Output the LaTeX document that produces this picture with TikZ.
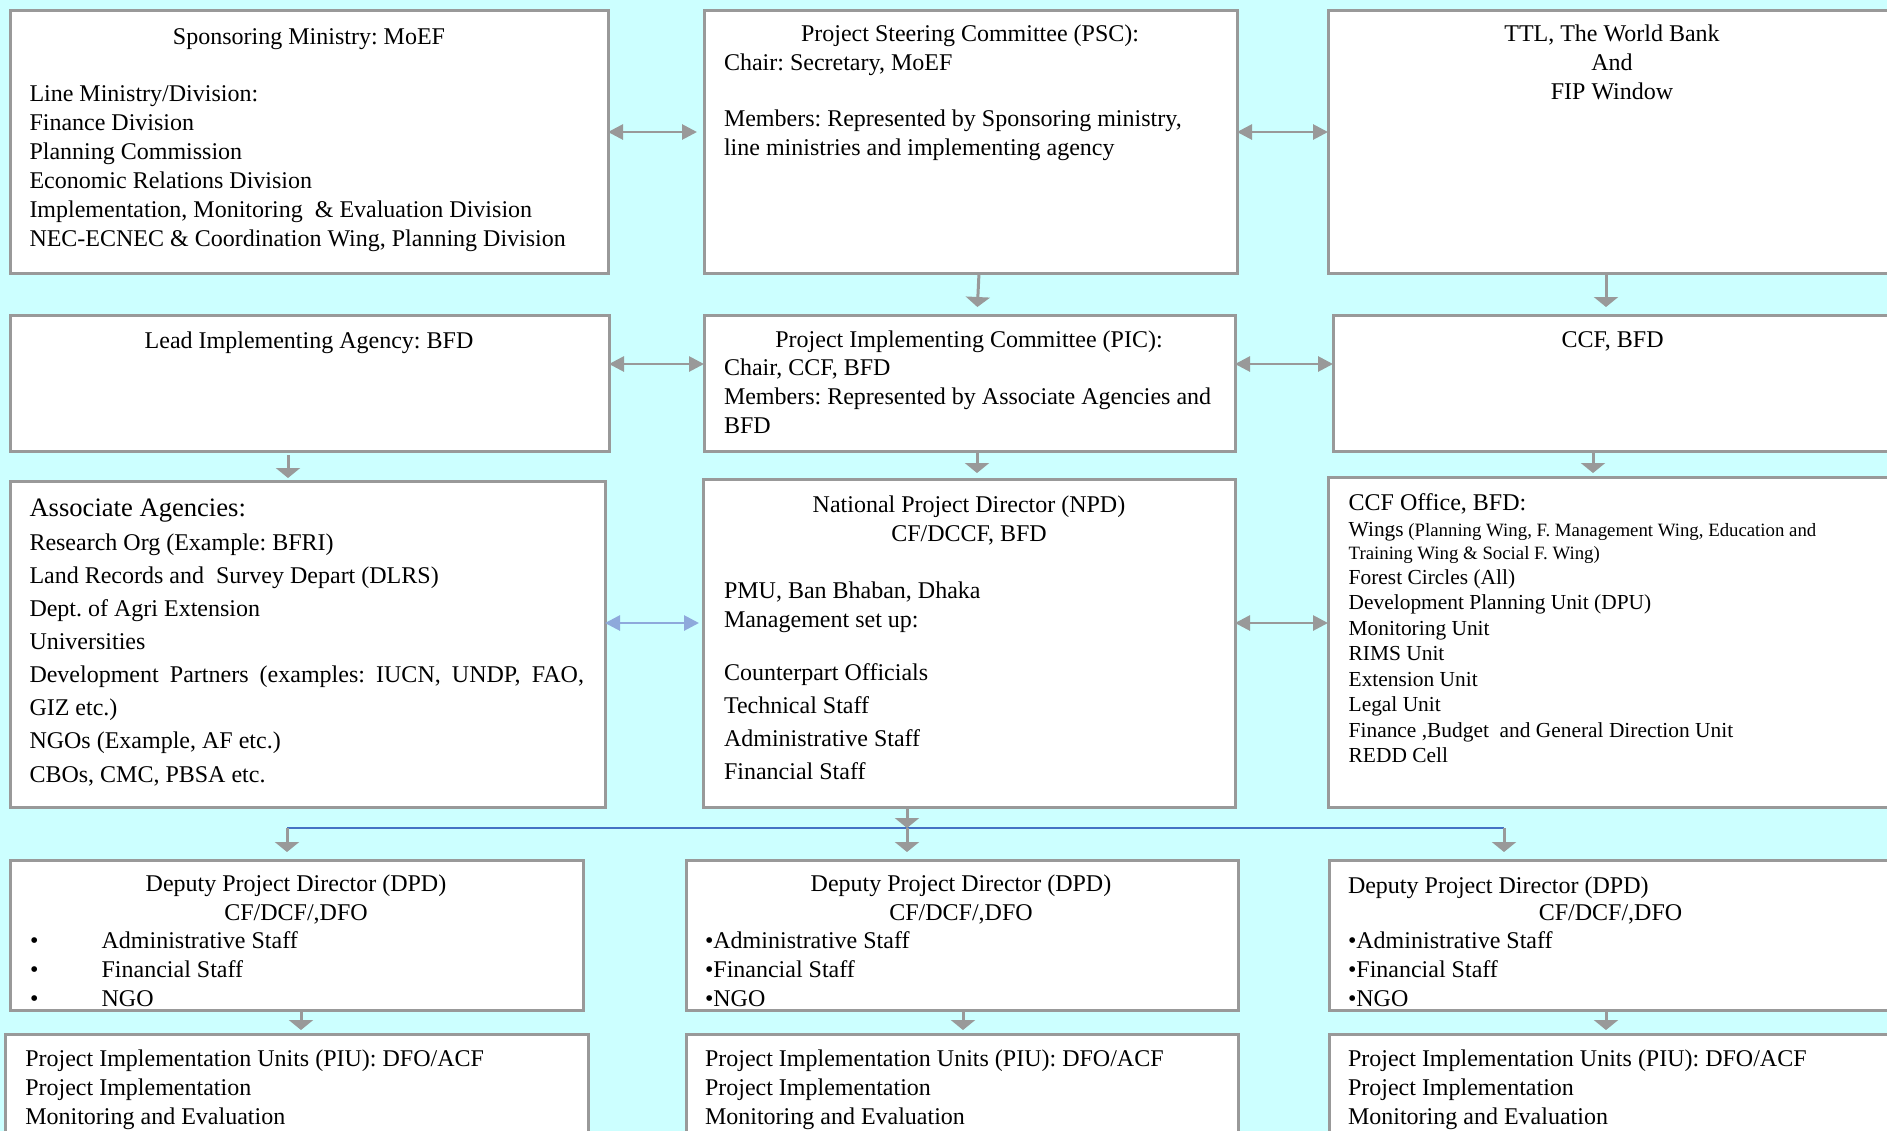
\documentclass[tikz,border=0pt]{standalone}
\usepackage{fontspec}
\setmainfont{Liberation Serif}
\usetikzlibrary{arrows.meta,fit}
\definecolor{bgc}{HTML}{CCFFFF}
\definecolor{bord}{HTML}{999999}
\definecolor{lblue}{HTML}{8EA9DB}
\definecolor{dblue}{HTML}{4472C4}
\begin{document}
\frenchspacing
\begin{tikzpicture}[x=0.5pt,y=-0.5pt,
 box/.style={draw=bord, line width=1.5pt, fill=white, inner sep=0pt, outer sep=0pt},
 txt/.style={inner sep=0pt, outer sep=0pt, align=left, font=\fontsize{12}{14.45}\selectfont},
 ctr/.style={txt, align=center, anchor=base},
 lft/.style={txt, anchor=base west},
 harr/.style={draw=bord, line width=1.4pt, {Triangle[width=7.5pt,length=7.5pt]}-{Triangle[width=7.5pt,length=7.5pt]}},
 barr/.style={harr, draw=lblue, fill=lblue},
 varr/.style={draw=bord, line width=1.5pt, -{Triangle[width=12pt,length=5pt]}},
]
\useasboundingbox (0,0) rectangle (1887,1131);
\clip (0,0) rectangle (1887,1131);
\fill[bgc] (0,0) rectangle (1887,1131);

% ---------- boxes ----------
\node[box, fit={(10,10) (608,273)}] (smin) {};
\node[box, fit={(704,10) (1237,273)}] (psc) {};
\node[box, fit={(1328,10) (1900,273)}] (ttl) {};
\node[box, fit={(10,315) (609,451)}] (lead) {};
\node[box, fit={(704,315) (1235,451)}] (pic) {};
\node[box, fit={(1333,315) (1900,451)}] (ccf) {};
\node[box, fit={(10,481) (605,807)}] (assoc) {};
\node[box, fit={(703,479) (1235,807)}] (npd) {};
\node[box, fit={(1328,477) (1900,807)}] (ccfo) {};
\node[box, fit={(10,860) (583,1010)}] (dpda) {};
\node[box, fit={(686,860) (1238,1010)}] (dpdb) {};
\node[box, fit={(1329,860) (1900,1010)}] (dpdc) {};
\node[box, fit={(5,1034) (588,1145)}] (piua) {};
\node[box, fit={(686,1034) (1238,1145)}] (piub) {};
\node[box, fit={(1329,1034) (1900,1145)}] (piuc) {};

% ---------- texts (multi-line nodes are placed by the baseline of their last line) ----------
\node[ctr] (sminh) at (309,44) {Sponsoring Ministry: MoEF};
\node[lft] (sminb) at (29.5,246) {Line Ministry/Division:\\Finance Division\\Planning Commission\\Economic Relations Division\\Implementation, Monitoring\ \ \& Evaluation Division\\NEC-ECNEC \& Coordination Wing, Planning Division};

\node[ctr] (psch) at (970,41.7) {Project Steering Committee (PSC):};
\node[lft] (pscc) at (724,70) {Chair: Secretary, MoEF};
\node[lft] (pscm) at (724,155.7) {Members: Represented by Sponsoring ministry,\\line ministries and implementing agency};

\node[ctr] (ttlt) at (1612,99.3) {TTL, The World Bank\\And\\FIP Window};

\node[ctr] (leadt) at (309,348.3) {Lead Implementing Agency: BFD};

\node[ctr] (pich) at (969,347.3) {Project Implementing Committee (PIC):};
\node[lft] (picb) at (724,433.3) {Chair, CCF, BFD\\Members: Represented by Associate Agencies and\\BFD};

\node[ctr] (ccft) at (1612.6,347.3) {CCF, BFD};

\node[lft, font=\fontsize{13.3}{16}\selectfont] (assoch) at (29.5,516) {Associate Agencies:};
\node[lft, font=\fontsize{12}{16.55}\selectfont] (assocb) at (29.5,782) {Research Org (Example: BFRI)\\Land Records and\ \ Survey Depart (DLRS)\\Dept. of Agri Extension\\Universities\\\hbox to 277.25pt{Development\hfill Partners\hfill (examples:\hfill IUCN,\hfill UNDP,\hfill FAO,}\\GIZ etc.)\\NGOs (Example, AF etc.)\\CBOs, CMC, PBSA etc.};

\node[ctr] (npdh) at (969,541.7) {National Project Director (NPD)\\CF/DCCF, BFD};
\node[lft] (npdp) at (724,627.7) {PMU, Ban Bhaban, Dhaka\\Management set up:};
\node[lft, font=\fontsize{12}{16.4}\selectfont] (npds) at (724,779.3) {Counterpart Officials\\Technical Staff\\Administrative Staff\\Financial Staff};

\node[lft] (ccfoh) at (1348.7,510) {CCF Office, BFD:};
\node[lft, font=\fontsize{9.4}{11.15}\selectfont] (ccfow) at (1348.7,559) {{\fontsize{10.7}{11.15}\selectfont Wings} (Planning Wing, F. Management Wing, Education and\\Training Wing \& Social F. Wing)};
\node[lft, font=\fontsize{10.7}{12.75}\selectfont] (ccfol) at (1348.7,762.7) {Forest Circles (All)\\Development Planning Unit (DPU)\\Monitoring Unit\\RIMS Unit\\Extension Unit\\Legal Unit\\Finance ,Budget\ \ and General Direction Unit\\REDD Cell};

\node[ctr] (dpdah) at (296,920.7) {Deputy Project Director (DPD)\\CF/DCF/,DFO};
\node[ctr] (dpdad) at (34.4,1006.7) {•\\•\\•};
\node[lft] (dpdab) at (101.6,1006.7) {Administrative Staff\\Financial Staff\\NGO};

\node[ctr] (dpdbh) at (961,920.7) {Deputy Project Director (DPD)\\CF/DCF/,DFO};
\node[lft] (dpdbb) at (705,1006.7) {•Administrative Staff\\•Financial Staff\\•NGO};

\node[lft] (dpdch) at (1348,893.3) {Deputy Project Director (DPD)};
\node[ctr] (dpdcc) at (1610.5,920.7) {CF/DCF/,DFO};
\node[lft] (dpdcb) at (1348,1006.7) {•Administrative Staff\\•Financial Staff\\•NGO};

\node[lft] (piuat) at (25.3,1124.3) {Project Implementation Units (PIU): DFO/ACF\\Project Implementation\\Monitoring and Evaluation};
\node[lft] (piubt) at (705,1124.3) {Project Implementation Units (PIU): DFO/ACF\\Project Implementation\\Monitoring and Evaluation};
\node[lft] (piuct) at (1348,1124.3) {Project Implementation Units (PIU): DFO/ACF\\Project Implementation\\Monitoring and Evaluation};

% ---------- helper coordinates ----------
\coordinate (ya) at (0,132);
\coordinate (yb) at (0,364);
\coordinate (yc) at (0,623);
\coordinate (xpsc) at (979,0);
\coordinate (xpic) at (977,0);
\coordinate (xttl) at (1606,0);
\coordinate (xlead) at (288,0);
\coordinate (xccf) at (1593,0);
\coordinate (xpa) at (301,0);
\coordinate (xpb) at (963,0);
\coordinate (xpc) at (1606,0);
\coordinate (jl) at (287,828);
\coordinate (jm) at (907,828);
\coordinate (jr) at (1504,828);

% ---------- connectors ----------
\draw[harr, shorten >=3.5pt] (smin.east |- ya) -- (psc.west |- ya);
\draw[harr] (psc.east |- ya) -- (ttl.west |- ya);
\draw[harr] (lead.east |- yb) -- (pic.west |- yb);
\draw[harr] (pic.east |- yb) -- (ccf.west |- yb);
\draw[barr, shorten >=2pt] (assoc.east |- yc) -- (npd.west |- yc);
\draw[harr] (npd.east |- yc) -- (ccfo.west |- yc);

\draw[varr, shorten >=4pt] (psc.south -| xpsc) -- (pic.north -| xpic);
\draw[varr, shorten >=4pt] (ttl.south -| xttl) -- (ccf.north -| xttl);
\draw[varr, shorten <=2pt, shorten >=1.5pt] (lead.south -| xlead) -- (assoc.north -| xlead);
\draw[varr, shorten >=3pt] (pic.south -| xpic) -- (npd.north -| xpic);
\draw[varr, shorten >=2pt] (ccf.south -| xccf) -- (ccfo.north -| xccf);

\draw[dblue, line width=0.9pt] (jl) -- (jr);
\draw[varr] (npd.south -| jm) -- (jm);
\draw[varr, shorten >=4pt] (jl) -- (dpda.north -| jl);
\draw[varr, shorten >=4pt] (jm) -- (dpdb.north -| jm);
\draw[varr, shorten >=4pt] (jr) -- (dpdc.north -| jr);

\draw[varr, shorten >=2pt] (dpda.south -| xpa) -- (piua.north -| xpa);
\draw[varr, shorten >=2pt] (dpdb.south -| xpb) -- (piub.north -| xpb);
\draw[varr, shorten >=2pt] (dpdc.south -| xpc) -- (piuc.north -| xpc);
\end{tikzpicture}
\end{document}
